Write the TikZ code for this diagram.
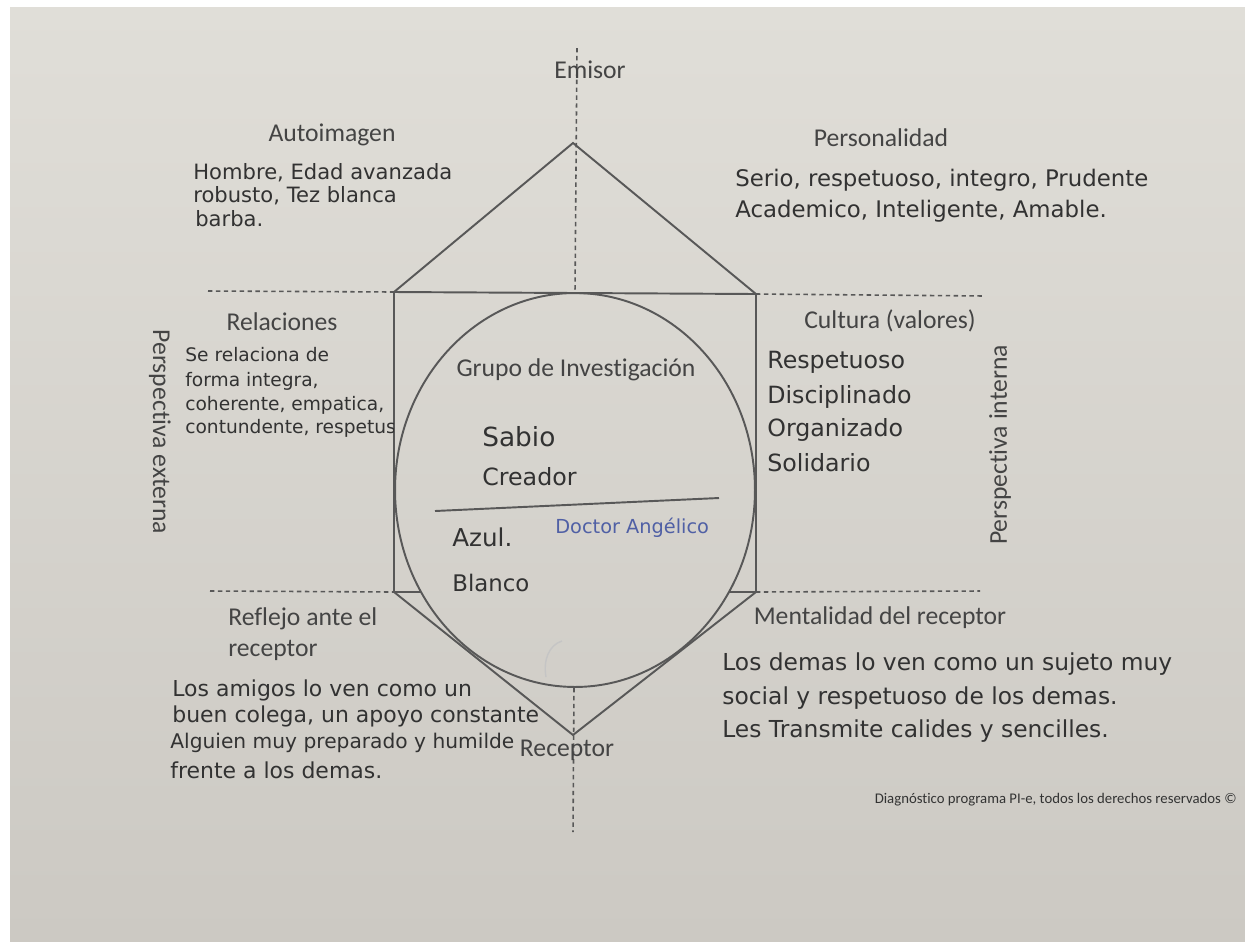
\documentclass[tikz,border=0pt]{standalone}
\usepackage{fontspec}
\setmainfont{Carlito}[Ligatures=NoCommon]
\newfontfamily\hand{DejaVu Sans}
\definecolor{paperT}{RGB}{224,222,216}
\definecolor{paperB}{RGB}{204,201,195}
\definecolor{inkc}{RGB}{68,68,68}
\definecolor{penc}{RGB}{50,50,50}
\definecolor{linec}{RGB}{88,88,88}
\definecolor{bluec}{RGB}{80,96,165}
\tikzset{
  lbl/.style={font=\fontsize{14.6}{17.6}\selectfont, text=inkc, inner sep=0pt},
  hw/.style={font=\hand\fontsize{12}{14}\selectfont, text=penc, inner sep=0pt, anchor=west},
  edgeline/.style={draw=linec, line width=1.1pt},
  axisline/.style={draw=linec, line width=0.9pt, dash pattern=on 2.5pt off 2pt},
}
\begin{document}
\begin{tikzpicture}[x=0.02cm, y=-0.02cm]
% background paper
\fill[white] (0,0) rectangle (1245,941);
\shade[top color=paperT, bottom color=paperB] (10,7) rectangle (1245,941);
\useasboundingbox (0,0) rectangle (1245,941);

% key points
\coordinate (apexT) at (573,143);
\coordinate (sqTL) at (394,292);
\coordinate (sqTR) at (756,294);
\coordinate (sqBL) at (394,592);
\coordinate (sqBR) at (756,592);
\coordinate (apexB) at (573,735);
\coordinate (sqTM) at (575,293);
\coordinate (ciB) at (574,688);
\coordinate (axT) at (577,48);
\coordinate (axB) at (573,832);
\coordinate (cutL) at (421,592);
\coordinate (cutR) at (729,592);
\coordinate (dTLa) at (208,291);
\coordinate (dTRb) at (985,296);
\coordinate (dBLa) at (210,591);
\coordinate (dBRb) at (980,591);
\coordinate (divA) at (435,511);
\coordinate (divB) at (719,498);

% axes
\draw[axisline] (axT) -- (sqTM);
\draw[axisline] (ciB) -- (axB);
\draw[axisline] (dTLa) -- (sqTL);
\draw[axisline] (sqTR) -- (dTRb);
\draw[axisline] (dBLa) -- (sqBL);
\draw[axisline] (sqBR) -- (dBRb);

% prism
\draw[edgeline] (sqTL) -- (apexT) -- (sqTR);
\draw[edgeline] (sqTL) -- (sqTR);
\draw[edgeline] (sqTL) -- (sqBL);
\draw[edgeline] (sqTR) -- (sqBR);
\draw[edgeline] (sqBL) -- (cutL);
\draw[edgeline] (cutR) -- (sqBR);
\draw[edgeline] (sqBL) -- (apexB) -- (sqBR);
\draw[edgeline] (575,490) ellipse [x radius=3.6cm, y radius=3.94cm];
\draw[edgeline] (divA) -- (divB);
\draw[draw=linec!35, line width=0.8pt] (562,641) .. controls (549,645) and (543,660) .. (546,677);

% printed labels
\node[lbl] (emisor) at (590,70) {Emisor};
\node[lbl] (receptor) at (567,750) {Receptor};
\node[lbl] (autoimagen) at (332,135) {Autoimagen};
\node[lbl] (personalidad) at (881,138) {Personalidad};
\node[lbl] (relaciones) at (282,322) {Relaciones};
\node[lbl] (cultura) at (890,321) {Cultura (valores)};
\node[lbl] (grupo) at (576,370) {Grupo de Investigación};
\node[lbl, anchor=west, align=left] (reflejo) at (228,634) {Reflejo ante el\\receptor};
\node[lbl] (mentalidad) at (880,618) {Mentalidad del receptor};
\node[lbl, rotate=-90] (pext) at (160,432) {Perspectiva externa};
\node[lbl, rotate=90] (pint) at (1000,445) {Perspectiva interna};
\node[lbl, anchor=east, font=\fontsize{8.4}{10}\selectfont, text=black!80] (footer) at (1237,800) {Diagnóstico programa PI-e, todos los derechos reservados ©};

% handwriting: Autoimagen
\node[hw] (a1) at (193,173) {Hombre, Edad avanzada};
\node[hw] (a2) at (193,196) {robusto, Tez blanca};
\node[hw] (a3) at (195,219) {barba.};
% Personalidad
\node[hw, font=\hand\fontsize{13}{15}\selectfont] (p1) at (735,180) {Serio, respetuoso, integro, Prudente};
\node[hw, font=\hand\fontsize{13}{15}\selectfont] (p2) at (735,211) {Academico, Inteligente, Amable.};
% Relaciones
\node[hw, font=\hand\fontsize{10.6}{12}\selectfont] (r1) at (185,355) {Se relaciona de};
\node[hw, font=\hand\fontsize{10.6}{12}\selectfont] (r2) at (185,381) {forma integra,};
\node[hw, font=\hand\fontsize{10.6}{12}\selectfont] (r3) at (185,405) {coherente, empatica,};
\begin{scope}
\clip (150,410) rectangle (393,450);
\node[hw, font=\hand\fontsize{10.6}{12}\selectfont] (r4) at (185,428) {contundente, respetuso};
\end{scope}
% Cultura
\node[hw, font=\hand\fontsize{13.5}{15}\selectfont] (c1) at (767,362) {Respetuoso};
\node[hw, font=\hand\fontsize{13.5}{15}\selectfont] (c2) at (767,397) {Disciplinado};
\node[hw, font=\hand\fontsize{13.5}{15}\selectfont] (c3) at (767,430) {Organizado};
\node[hw, font=\hand\fontsize{13.5}{15}\selectfont] (c4) at (767,463) {Solidario};
% centre
\node[hw, font=\hand\fontsize{15}{17}\selectfont] (g1) at (482,437) {Sabio};
\node[hw, font=\hand\fontsize{13.5}{16}\selectfont] (g2) at (482,477) {Creador};
\node[hw, font=\hand\fontsize{14}{16}\selectfont] (g3) at (452,537) {Azul.};
\node[hw, font=\hand\fontsize{13}{15}\selectfont] (g4) at (452,583) {Blanco};
\node[hw, font=\hand\fontsize{11}{13}\selectfont, text=bluec] (g5) at (555,528) {Doctor Angélico};
% Reflejo
\node[hw, font=\hand\fontsize{12.5}{14}\selectfont] (f1) at (172,690) {Los amigos lo ven como un};
\node[hw, font=\hand\fontsize{12.5}{14}\selectfont] (f2) at (172,716) {buen colega, un apoyo constante};
\node[hw, font=\hand\fontsize{11.5}{14}\selectfont] (f3) at (170,743) {Alguien muy preparado y humilde};
\node[hw, font=\hand\fontsize{12.5}{14}\selectfont] (f4) at (170,770) {frente a los demas.};
% Mentalidad
\node[hw, font=\hand\fontsize{13.3}{15}\selectfont] (m1) at (722,664) {Los demas lo ven como un sujeto muy};
\node[hw, font=\hand\fontsize{13.3}{15}\selectfont] (m2) at (722,698) {social y respetuoso de los demas.};
\node[hw, font=\hand\fontsize{13.3}{15}\selectfont] (m3) at (722,731) {Les Transmite calides y sencilles.};
\end{tikzpicture}
\end{document}
